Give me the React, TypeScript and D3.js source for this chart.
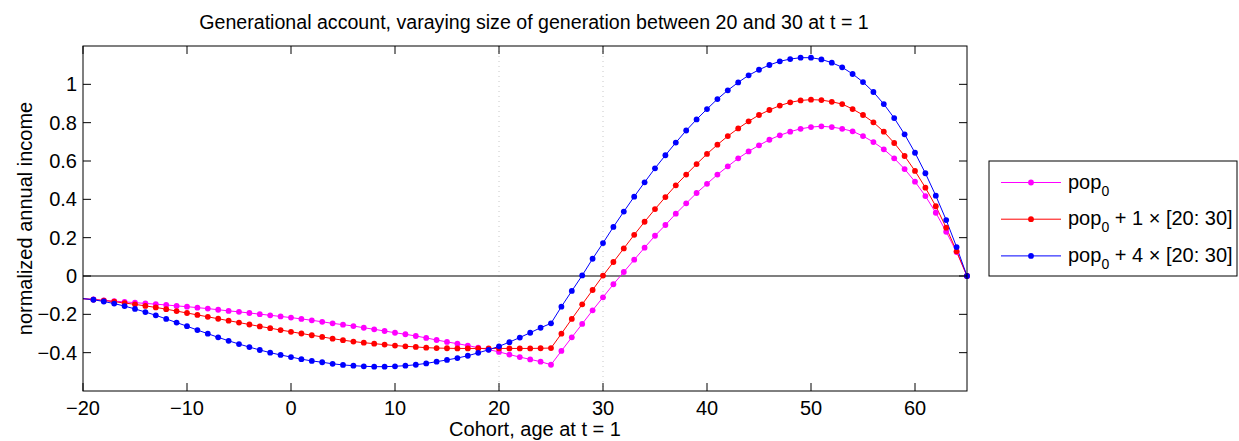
import React from "react";
import * as d3 from "d3";

const cohorts: number[] = d3.range(-20, 66);

const pop0: number[] = [
  -0.118, -0.122, -0.127, -0.131, -0.135, -0.139, -0.143, -0.147, -0.151, -0.156,
  -0.160, -0.165, -0.170, -0.176, -0.182, -0.187, -0.193, -0.199, -0.205, -0.211,
  -0.217, -0.224, -0.231, -0.239, -0.247, -0.254, -0.261, -0.270, -0.278, -0.287,
  -0.296, -0.304, -0.313, -0.323, -0.334, -0.344, -0.353, -0.363, -0.374, -0.384,
  -0.396, -0.410, -0.423, -0.435, -0.447, -0.463,
  -0.391, -0.320, -0.250, -0.179, -0.111, -0.043, 0.021, 0.085, 0.148, 0.210,
  0.266, 0.325, 0.379, 0.433, 0.481, 0.529, 0.572, 0.614, 0.650, 0.682,
  0.711, 0.734, 0.753, 0.768, 0.777, 0.781, 0.777, 0.768, 0.755, 0.730,
  0.699, 0.661, 0.614, 0.558, 0.492, 0.417, 0.330, 0.231, 0.125, 0.0,
];

const pop1: number[] = [
  -0.119, -0.123, -0.128, -0.134, -0.141, -0.148, -0.156, -0.164, -0.173, -0.183,
  -0.193, -0.203, -0.213, -0.223, -0.233, -0.243, -0.253, -0.263, -0.272, -0.282,
  -0.291, -0.300, -0.309, -0.318, -0.327, -0.335, -0.342, -0.348, -0.353, -0.358,
  -0.363, -0.367, -0.370, -0.374, -0.376, -0.377, -0.378, -0.378, -0.378, -0.378,
  -0.378, -0.378, -0.378, -0.378, -0.377, -0.376,
  -0.301, -0.224, -0.148, -0.073, 0.002, 0.073, 0.144, 0.215, 0.283, 0.349,
  0.412, 0.473, 0.529, 0.584, 0.637, 0.685, 0.730, 0.770, 0.807, 0.840,
  0.866, 0.889, 0.906, 0.916, 0.920, 0.918, 0.909, 0.897, 0.871, 0.840,
  0.802, 0.753, 0.694, 0.626, 0.548, 0.461, 0.364, 0.252, 0.129, 0.0,
];

const pop4: number[] = [
  -0.118, -0.124, -0.133, -0.144, -0.157, -0.172, -0.188, -0.205, -0.224, -0.243,
  -0.262, -0.282, -0.301, -0.320, -0.338, -0.355, -0.371, -0.386, -0.400, -0.412,
  -0.423, -0.434, -0.443, -0.450, -0.458, -0.464, -0.468, -0.471, -0.473, -0.473,
  -0.471, -0.468, -0.463, -0.456, -0.447, -0.438, -0.428, -0.416, -0.401, -0.385,
  -0.367, -0.345, -0.321, -0.296, -0.270, -0.247,
  -0.160, -0.078, 0.003, 0.090, 0.172, 0.256, 0.336, 0.414, 0.489, 0.562,
  0.630, 0.696, 0.759, 0.817, 0.871, 0.923, 0.969, 1.010, 1.047, 1.076,
  1.101, 1.120, 1.132, 1.139, 1.139, 1.130, 1.113, 1.089, 1.054, 1.012,
  0.960, 0.897, 0.824, 0.739, 0.643, 0.536, 0.419, 0.292, 0.151, 0.0,
];

const xTicks: number[] = [-20, -10, 0, 10, 20, 30, 40, 50, 60];
const yTicks: number[] = [-0.4, -0.2, 0, 0.2, 0.4, 0.6, 0.8, 1];
const yTickLabels: string[] = ["\u22120.4", "\u22120.2", "0", "0.2", "0.4", "0.6", "0.8", "1"];
const xTickLabels: string[] = ["\u221220", "\u221210", "0", "10", "20", "30", "40", "50", "60"];
const vLines: number[] = [20, 30];

const seriesNames: string[] = ["", " + 1 \u00d7 [20: 30]", " + 4 \u00d7 [20: 30]"];
const seriesColors: string[] = ["#ff00ff", "#ff0000", "#0000ff"];
const seriesData: number[][] = [pop0, pop1, pop4];

const W = 1239;
const H = 441;
const L = 83, R = 967, T = 46, B = 391;
const FONT = "'Liberation Sans', Arial, Helvetica, sans-serif";
const FS = 20;

export default function App() {
  const x = d3.scaleLinear().domain([-20, 65]).range([L, R]);
  const y = d3.scaleLinear().domain([-0.6, 1.2]).range([B, T]);
  const line = d3
    .line<number>()
    .x((_, i) => x(cohorts[i]))
    .y((d) => y(d));
  const tickLen = 8;

  return (
    <svg
      width={W}
      height={H}
      style={{ position: "absolute", left: 0, top: 0, background: "#fff" }}
      fontFamily={FONT}
    >
      <rect x={0} y={0} width={W} height={H} fill="#fff" />
      <defs>
        <clipPath id="plotclip">
          <rect x={L} y={T} width={R - L} height={B - T} />
        </clipPath>
      </defs>
      {vLines.map((v) => (
        <line
          key={"v" + v}
          x1={x(v)}
          x2={x(v)}
          y1={T}
          y2={B}
          stroke="#c8c8c8"
          strokeWidth={1}
          strokeDasharray="1,4"
        />
      ))}
      <line x1={L} x2={R} y1={y(0)} y2={y(0)} stroke="#555" strokeWidth={1.4} />
      <g clipPath="url(#plotclip)">
        {seriesData.map((s, k) => (
          <path key={"p" + k} d={line(s) || ""} fill="none" stroke={seriesColors[k]} strokeWidth={1} />
        ))}
      </g>
      {seriesData.map((s, k) => (
        <g key={"m" + k} fill={seriesColors[k]}>
          {s.map((v, i) =>
            cohorts[i] > -20 ? <circle key={i} cx={x(cohorts[i])} cy={y(v)} r={2.9} /> : null
          )}
        </g>
      ))}
      <rect x={L} y={T} width={R - L} height={B - T} fill="none" stroke="#000" strokeWidth={1} />
      {xTicks.map((t, i) => (
        <g key={"xt" + t}>
          <line x1={x(t)} x2={x(t)} y1={B} y2={B - tickLen} stroke="#000" />
          <line x1={x(t)} x2={x(t)} y1={T} y2={T + tickLen} stroke="#000" />
          <text x={x(t)} y={415} fontSize={FS} textAnchor="middle" fill="#000">
            {xTickLabels[i]}
          </text>
        </g>
      ))}
      {yTicks.map((t, i) => (
        <g key={"yt" + t}>
          <line x1={L} x2={L + tickLen} y1={y(t)} y2={y(t)} stroke="#000" />
          <line x1={R} x2={R - tickLen} y1={y(t)} y2={y(t)} stroke="#000" />
          <text x={77} y={y(t) + 7} fontSize={FS} textAnchor="end" fill="#000">
            {yTickLabels[i]}
          </text>
        </g>
      ))}
      <text x={534} y={29} fontSize={19.6} textAnchor="middle" fill="#000">
        Generational account, varaying size of generation between 20 and 30 at t = 1
      </text>
      <text x={535} y={436} fontSize={FS} textAnchor="middle" fill="#000">
        Cohort, age at t = 1
      </text>
      <text
        transform={`translate(32, ${(T + B) / 2}) rotate(-90)`}
        fontSize={FS}
        textAnchor="middle"
        fill="#000"
      >
        normalized annual income
      </text>
      <rect x={989} y={161} width={248} height={115} fill="#fff" stroke="#000" strokeWidth={1} />
      {seriesNames.map((name, k) => {
        const ly = 182.5 + k * 36.7;
        return (
          <g key={"lg" + k}>
            <line x1={1001} x2={1061} y1={ly} y2={ly} stroke={seriesColors[k]} strokeWidth={1} />
            <circle cx={1031} cy={ly} r={2.9} fill={seriesColors[k]} />
            <text x={1068} y={ly + 6} fontSize={FS} fill="#000">
              pop
              <tspan fontSize={14} dy={7}>0</tspan>
              <tspan dy={-7}>{name}</tspan>
            </text>
          </g>
        );
      })}
    </svg>
  );
}
